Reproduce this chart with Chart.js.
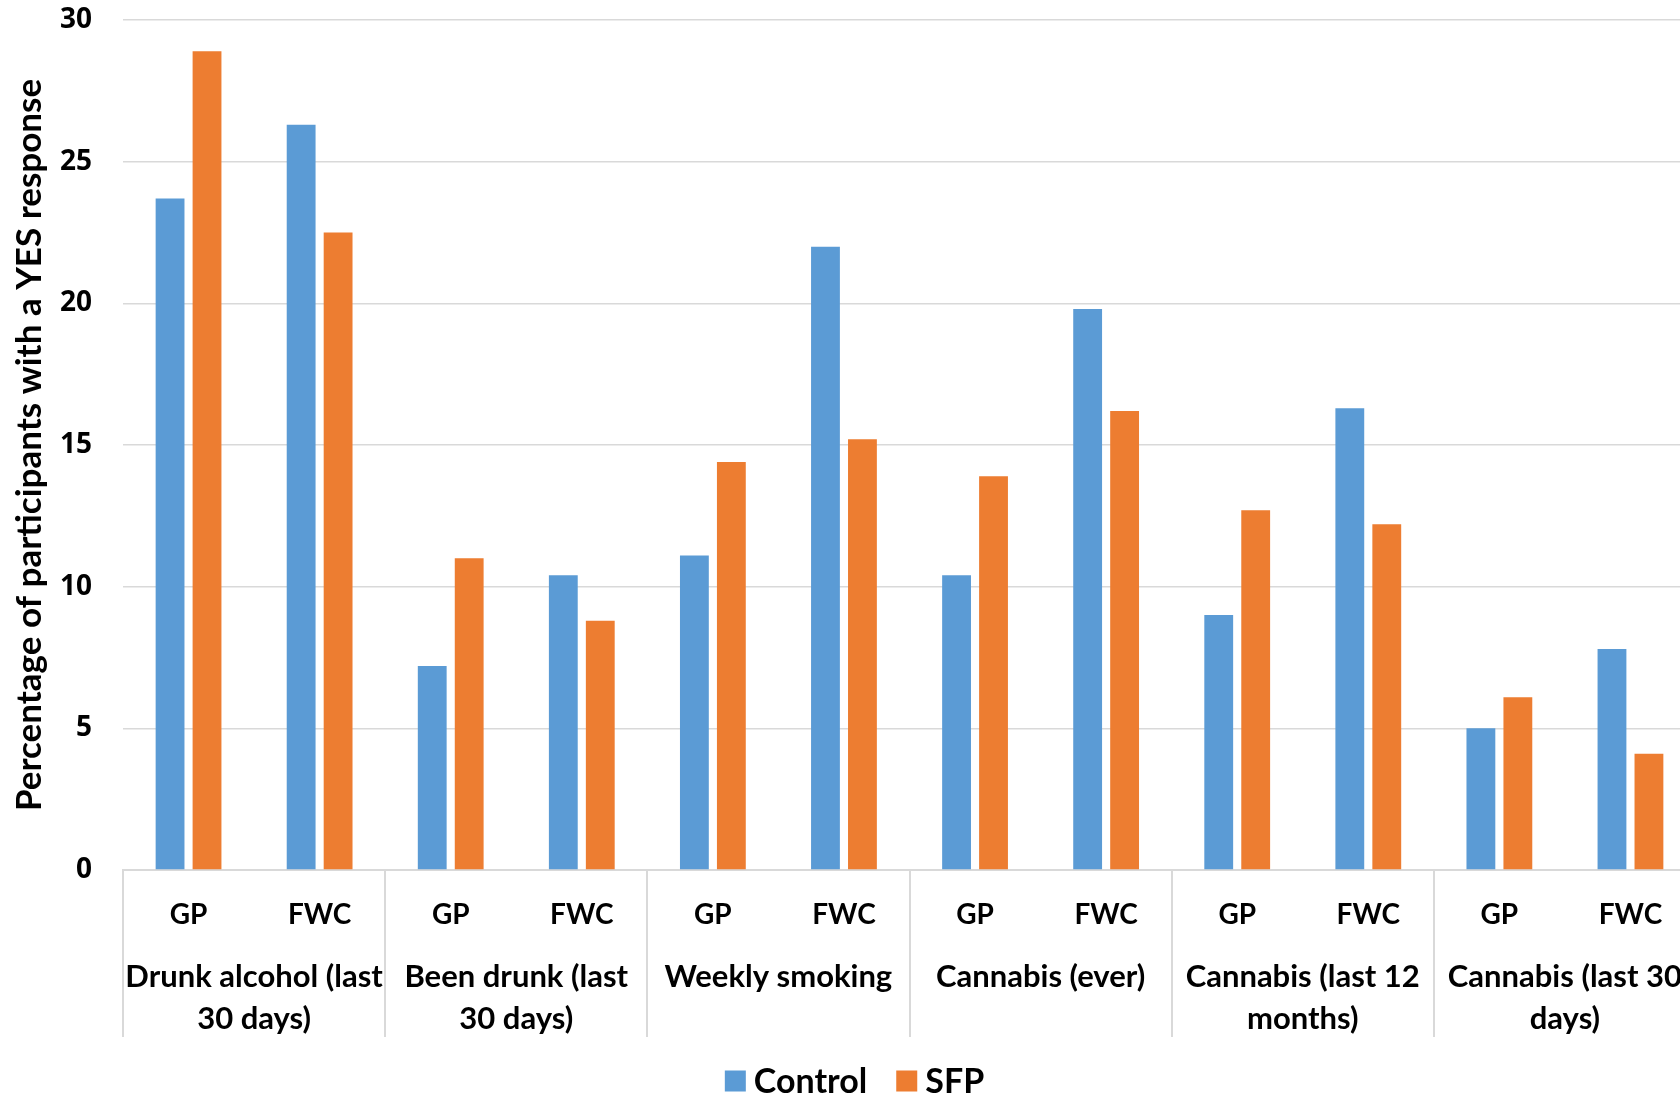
<!DOCTYPE html>
<html>
<head>
<meta charset="utf-8">
<script src="https://cdn.jsdelivr.net/npm/chart.js@4.4.1/dist/chart.umd.min.js"></script>
<style>
  html, body { margin: 0; padding: 0; background: #ffffff; overflow: hidden; }
  #wrap { position: absolute; left: 0; top: 0; width: 1709px; height: 1097px; }
</style>
</head>
<body>
<div id="wrap"><canvas id="chart" width="1709" height="1097"></canvas></div>
<script>
// Sub-groups under each behaviour
const subLabels = ['GP', 'FWC', 'GP', 'FWC', 'GP', 'FWC', 'GP', 'FWC', 'GP', 'FWC', 'GP', 'FWC'];

// Behaviour groups, each spanning a GP and an FWC column (two text lines each)
const groupLabels = [
  ['Drunk alcohol (last', '30 days)'],
  ['Been drunk (last', '30 days)'],
  ['Weekly smoking'],
  ['Cannabis (ever)'],
  ['Cannabis (last 12', 'months)'],
  ['Cannabis (last 30', 'days)']
];

// Percentage of participants answering YES
const controlValues = [23.7, 26.3, 7.2, 10.4, 11.1, 22.0, 10.4, 19.8, 9.0, 16.3, 5.0, 7.8];
const sfpValues     = [28.9, 22.5, 11.0, 8.8, 14.4, 15.2, 13.9, 16.2, 12.7, 12.2, 6.1, 4.1];

const seriesNames = ['Control', 'SFP'];
const yTicks = [0, 5, 10, 15, 20, 25, 30];

const BLUE = '#5B9BD5';
const ORANGE = '#ED7D31';
const GRID = '#D9D9D9';
const LABEL_FONT = 'Lato';

// Group captions, group separators and the legend under the axis
const groupAxisPlugin = {
  id: 'groupAxis',
  afterDraw(chart) {
    const ctx = chart.ctx;
    const x = chart.scales.x;
    const area = chart.chartArea;
    const n = subLabels.length;
    const half = (x.getPixelForValue(1) - x.getPixelForValue(0)) / 2;

    ctx.save();
    // separators between groups
    ctx.strokeStyle = GRID;
    ctx.lineWidth = 2;
    for (let i = 0; i <= n; i += 2) {
      const px = i < n ? x.getPixelForValue(i) - half : x.getPixelForValue(n - 1) + half;
      ctx.beginPath();
      ctx.moveTo(Math.round(px), area.bottom);
      ctx.lineTo(Math.round(px), area.bottom + 167);
      ctx.stroke();
    }

    // group captions
    ctx.fillStyle = '#000000';
    ctx.font = 'bold 31px ' + LABEL_FONT;
    ctx.textAlign = 'center';
    ctx.textBaseline = 'middle';
    groupLabels.forEach((lines, g) => {
      const cx = (x.getPixelForValue(2 * g) + x.getPixelForValue(2 * g + 1)) / 2;
      lines.forEach((line, k) => {
        ctx.fillText(line, cx, area.bottom + 107 + k * 42);
      });
    });

    // legend
    const box = 21;
    const gapText = 8;
    const gapItem = 29;
    ctx.font = 'bold 34px ' + LABEL_FONT;
    ctx.textAlign = 'left';
    const items = chart.data.datasets.map(ds => ({
      text: ds.label, color: ds.backgroundColor, w: ctx.measureText(ds.label).width
    }));
    let total = 0;
    items.forEach((it, i) => { total += box + gapText + it.w + (i ? gapItem : 0); });
    let lx = chart.width / 2 - total / 2;
    const ly = 1081;
    items.forEach(it => {
      ctx.fillStyle = it.color;
      ctx.fillRect(lx, ly - box / 2, box, box);
      ctx.fillStyle = '#000000';
      ctx.fillText(it.text, lx + box + gapText, ly + 1);
      lx += box + gapText + it.w + gapItem;
    });
    ctx.restore();
  }
};

new Chart(document.getElementById('chart'), {
  type: 'bar',
  data: {
    labels: subLabels,
    datasets: [
      { label: seriesNames[0], data: controlValues, backgroundColor: BLUE },
      { label: seriesNames[1], data: sfpValues, backgroundColor: ORANGE }
    ]
  },
  options: {
    responsive: false,
    devicePixelRatio: 1,
    animation: false,
    categoryPercentage: 0.564,
    barPercentage: 0.78,
    layout: { padding: { top: 20, right: 13, bottom: 0, left: 0 } },
    plugins: {
      legend: { display: false },
      tooltip: { enabled: false },
      title: { display: false }
    },
    scales: {
      x: {
        grid: { display: false },
        border: { display: true, color: GRID, width: 2 },
        ticks: {
          color: '#000000',
          font: { family: LABEL_FONT, size: 28, weight: 'bold' },
          padding: 20,
          maxRotation: 0,
          autoSkip: false
        },
        afterFit(axis) {
          axis.height = 227;
          axis.paddingLeft = 0;
          axis.paddingRight = 0;
        }
      },
      y: {
        min: 0,
        max: 30,
        afterBuildTicks(axis) { axis.ticks = yTicks.map(v => ({ value: v })); },
        grid: { color: GRID, lineWidth: 1.5, drawTicks: false },
        border: { display: false },
        ticks: {
          color: '#000000',
          font: { family: 'Open Sans', size: 28, weight: 'bold' },
          padding: 31
        },
        title: {
          display: true,
          text: 'Percentage of participants with a YES response',
          color: '#000000',
          font: { family: LABEL_FONT, size: 35, weight: 'bold' },
          padding: { top: 9, bottom: 0 }
        },
        afterFit(axis) {
          axis.width = 123;
          axis.paddingTop = 0;
          axis.paddingBottom = 0;
        }
      }
    }
  },
  plugins: [groupAxisPlugin]
});
</script>
</body>
</html>
